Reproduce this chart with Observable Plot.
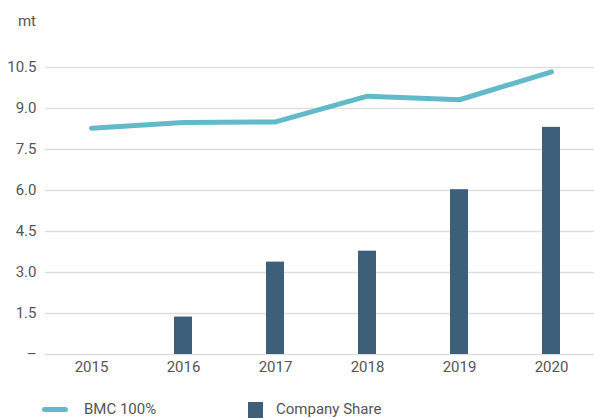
<!DOCTYPE html>
<html>
<head>
<meta charset="utf-8">
<script src="https://cdn.jsdelivr.net/npm/d3@7"></script>
<script src="https://cdn.jsdelivr.net/npm/@observablehq/plot@0.6"></script>
<style>
  html, body { margin: 0; padding: 0; background: #fff; }
  body { width: 594px; height: 418px; overflow: hidden; position: relative; font-family: Roboto, "Noto Sans", sans-serif; color: #555; }
  #unit { position: absolute; right: calc(594px - 36px); top: 12px; font-size: 15px; }
  #chart { position: absolute; left: 0; top: 0; }
  .legend { position: absolute; top: 401px; height: 17px; line-height: 17px; font-size: 15px; display: flex; align-items: center; }
  .sw-line { width: 26px; height: 5px; border-radius: 3px; background: #62bac9; margin-right: 16px; }
  .sw-rect { width: 15px; height: 16px; background: #3d5f7a; margin-right: 13px; }
</style>
</head>
<body>
<div id="unit">mt</div>
<div id="chart"></div>
<div class="legend" style="left:42px"><div class="sw-line"></div><span>BMC 100%</span></div>
<div class="legend" style="left:248px"><div class="sw-rect"></div><span>Company Share</span></div>
<script>
const years = ["2015", "2016", "2017", "2018", "2019", "2020"];
const bmc100 = [8.28, 8.49, 8.51, 9.45, 9.32, 10.34];
const companyShare = [null, 1.37, 3.38, 3.78, 6.03, 8.31];
const yTicks = [0, 1.5, 3.0, 4.5, 6.0, 7.5, 9.0, 10.5];

const data = years.map((y, i) => ({year: y, bmc: bmc100[i], share: companyShare[i]}));

const chart = Plot.plot({
  width: 594,
  height: 385,
  marginLeft: 45,
  marginRight: 0,
  marginTop: 67,
  marginBottom: 31,
  style: {fontFamily: "Roboto, 'Noto Sans', sans-serif", fontSize: "15px", color: "#555", background: "transparent"},
  x: {type: "band", domain: years, range: [44, 597], paddingInner: 0.805, paddingOuter: 0.4025, align: 0.5, label: null},
  y: {domain: [0, 10.5], label: null},
  marks: [
    Plot.gridY(yTicks, {stroke: "#dedede", strokeOpacity: 1, strokeWidth: 1.5}),
    Plot.axisY(yTicks, {tickSize: 0, tickPadding: 9, label: null, tickFormat: d => d === 0 ? "–" : d.toFixed(1), fill: "#555"}),
    Plot.axisX({tickSize: 0, tickPadding: 7, label: null, fill: "#555"}),
    Plot.barY(data.filter(d => d.share != null), {x: "year", y: "share", fill: "#3d5f7a"}),
    Plot.line(data, {x: "year", y: "bmc", stroke: "#62bac9", strokeWidth: 5, strokeLinecap: "round", strokeLinejoin: "round"})
  ]
});
document.getElementById("chart").appendChild(chart);
</script>
</body>
</html>
